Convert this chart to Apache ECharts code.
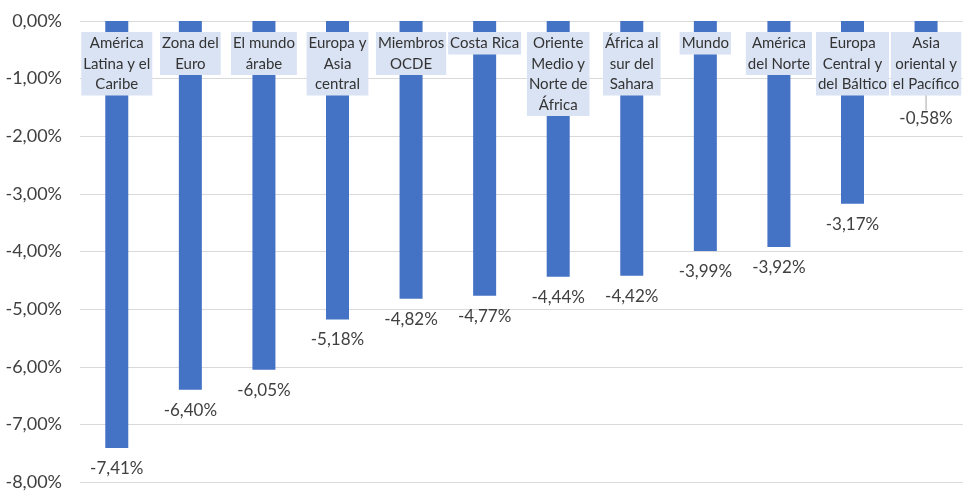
<!DOCTYPE html>
<html><head><meta charset="utf-8">
<script src="https://cdn.jsdelivr.net/npm/echarts@6/dist/echarts.min.js"></script>
<style>html,body{margin:0;padding:0;background:#fff}#c{width:964px;height:491px}</style>
</head><body><div id="c"></div>
<script>
var categories = ["América\nLatina y el\nCaribe","Zona del\nEuro","El mundo\nárabe","Europa y\nAsia\ncentral","Miembros\nOCDE","Costa Rica","Oriente\nMedio y\nNorte de\nÁfrica","África al\nsur del\nSahara","Mundo","América\ndel Norte","Europa\nCentral y\ndel Báltico","Asia\noriental y\nel Pacífico"];
var values = [-7.41,-6.40,-6.05,-5.18,-4.82,-4.77,-4.44,-4.42,-3.99,-3.92,-3.17,-0.58];
var yTicks = {min:-8, max:0, interval:1};

function fmt(v){ return v.toFixed(2).replace('.', ',') + '%'; }

var lastIdx = values.length - 1;
var data = values.map(function(v,i){
  var d = {value: v};
  if (i === lastIdx) {
    d.labelLine = {show: true, lineStyle:{color:'#a6a6a6', width:1}};
  }
  return d;
});

var chart = echarts.init(document.getElementById('c'), null, {renderer:'canvas'});
chart.setOption({
  animation:false,
  textStyle:{fontFamily:'Lato'},
  grid:{left:80, right:-5, top:21, bottom:9},
  xAxis:{
    type:'category', data:categories, position:'top', z:10,
    axisLine:{show:false}, axisTick:{show:false},
    axisLabel:{inside:true, interval:0, margin:11, color:'#333', fontSize:15, fontFamily:'Lato',
      lineHeight:20.5, backgroundColor:'#dae3f3', padding:[1,2,1,2], align:'center'}
  },
  yAxis:{
    type:'value', min:yTicks.min, max:yTicks.max, interval:yTicks.interval,
    axisLine:{show:false}, axisTick:{show:false},
    splitLine:{lineStyle:{color:'#d9d9d9', width:1}},
    axisLabel:{formatter:function(v){return fmt(v);}, color:'#404040', fontSize:18, margin:18, fontFamily:'Lato'}
  },
  series:[{
    type:'bar', data:data, barWidth:23, itemStyle:{color:'#4472c4'},
    label:{show:true, position:'bottom', distance:12, color:'#404040', fontSize:17, fontFamily:'Lato',
      formatter:function(p){return fmt(p.value);}},
    labelLayout:function(p){
      if (p.dataIndex === lastIdx) return {dy: 44};
      return {};
    }
  }]
});
</script></body></html>
